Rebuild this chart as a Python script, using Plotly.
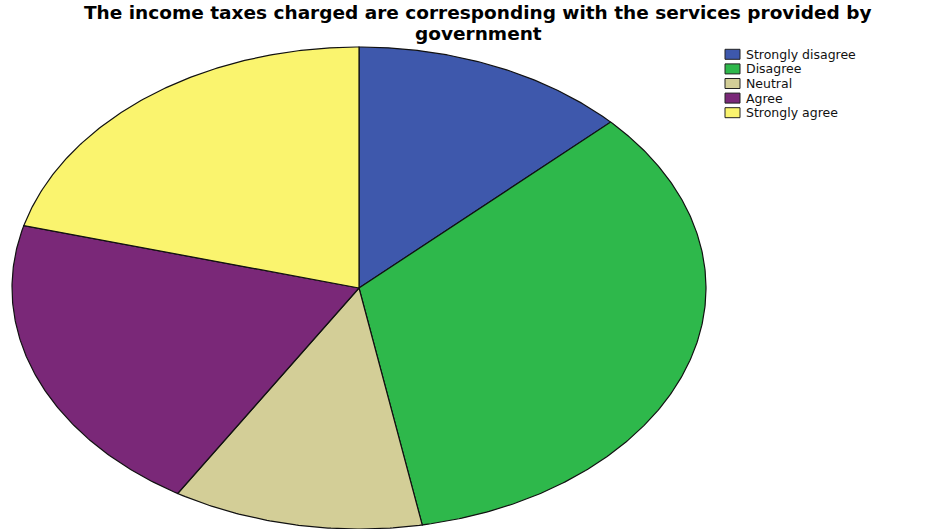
import numpy as np
import plotly.graph_objects as go

# Survey responses
categories = ["Strongly disagree", "Disagree", "Neutral", "Agree", "Strongly agree"]
counts = [31, 82, 28, 49, 50]
colors = ["#3E58AC", "#2EB84B", "#D3CE97", "#7A2878", "#FAF46E"]

title_lines = ["The income taxes charged are corresponding with the services provided by",
               "government"]

W, H = 929, 529
# pie geometry in pixel space (stretched horizontally into an ellipse)
CX, CY, RX, RY = 359, 288, 347, 241

fig = go.Figure()

total = sum(counts)
start = 0.0
for name, val, col in zip(categories, counts, colors):
    sweep = 2 * np.pi * val / total
    t = np.linspace(start, start + sweep, max(int(sweep * 120), 8))
    xs = np.concatenate([[CX], CX + RX * np.sin(t), [CX]])
    ys = np.concatenate([[CY], CY - RY * np.cos(t), [CY]])
    fig.add_trace(go.Scatter(
        x=xs, y=ys, mode="lines", fill="toself", fillcolor=col,
        line=dict(color="#111111", width=1.2), name=name,
        hoverinfo="name", showlegend=False,
    ))
    start += sweep

# legend built from the category list
LX, LY, DY = 725, 54.3, 14.6
shapes = []
annotations = []
for i, (name, col) in enumerate(zip(categories, colors)):
    yc = LY + i * DY
    shapes.append(dict(type="rect", xref="x", yref="y",
                       x0=LX, x1=LX + 15, y0=yc - 5, y1=yc + 5,
                       fillcolor=col, line=dict(color="#222222", width=1)))
    annotations.append(dict(x=LX + 19, y=yc, xref="x", yref="y", text=name,
                            showarrow=False, xanchor="left", yanchor="middle",
                            font=dict(family="DejaVu Sans", size=12.5, color="#111111")))

for j, line in enumerate(title_lines):
    annotations.append(dict(x=478, y=12 + j * 21, xref="x", yref="y", text=line,
                            showarrow=False, xanchor="center", yanchor="middle",
                            font=dict(family="DejaVu Sans", size=18.5, color="#000000",
                                      weight="bold")))

fig.update_layout(
    width=W, height=H, autosize=False,
    margin=dict(l=0, r=0, t=0, b=0),
    paper_bgcolor="white", plot_bgcolor="white",
    xaxis=dict(range=[0, W], visible=False, fixedrange=True),
    yaxis=dict(range=[H, 0], visible=False, fixedrange=True),
    shapes=shapes, annotations=annotations,
    showlegend=False,
)

fig.write_html("out.html")
